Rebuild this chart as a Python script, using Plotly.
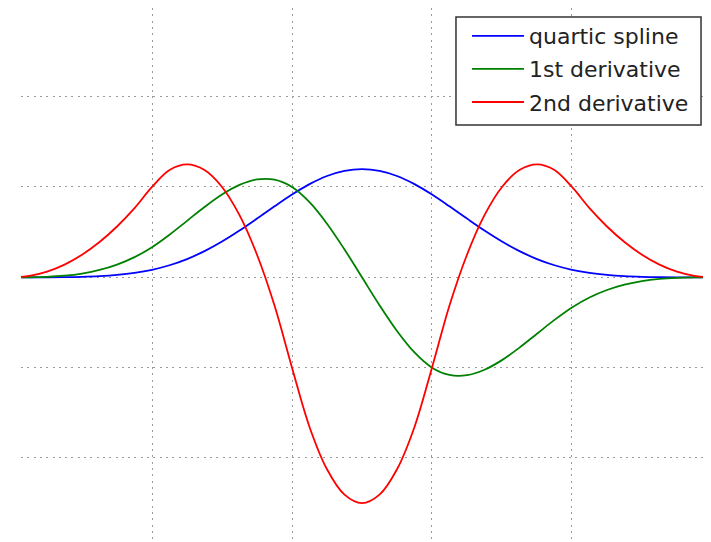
import plotly.graph_objects as go

# knot-parameter positions (x), step 1/8
x_vals = [i / 8 for i in range(41)]

quartic_spline = [0, 0.0000, 0.0002, 0.0008, 0.0026, 0.0064, 0.0132, 0.0244, 0.0417, 0.0667,
                  0.1009, 0.1448, 0.1979, 0.2587, 0.3249, 0.3929, 0.4583, 0.5160, 0.5609, 0.5892,
                  0.5990,
                  0.5892, 0.5609, 0.5160, 0.4583, 0.3929, 0.3249, 0.2587, 0.1979, 0.1448, 0.1009,
                  0.0667, 0.0417, 0.0244, 0.0132, 0.0064, 0.0026, 0.0008, 0.0002, 0.0000, 0]
first_derivative = [0, 0.0003, 0.0026, 0.0088, 0.0208, 0.0407, 0.0703, 0.1117, 0.1667, 0.2357,
                    0.3125, 0.3893, 0.4583, 0.5117, 0.5417, 0.5404, 0.5, 0.4160, 0.2969, 0.1543,
                    0,
                    -0.1543, -0.2969, -0.4160, -0.5, -0.5404, -0.5417, -0.5117, -0.4583, -0.3893,
                    -0.3125, -0.2357, -0.1667, -0.1117, -0.0703, -0.0407, -0.0208, -0.0088, -0.0026,
                    -0.0003, 0]
second_derivative = [0, 0.0078, 0.0313, 0.0703, 0.125, 0.1953, 0.2813, 0.3828, 0.5, 0.5938,
                     0.625, 0.5938, 0.5, 0.3438, 0.125, -0.1563, -0.5, -0.8281, -1.0625, -1.2031,
                     -1.25,
                     -1.2031, -1.0625, -0.8281, -0.5, -0.1563, 0.125, 0.3438, 0.5, 0.5938,
                     0.625, 0.5938, 0.5, 0.3828, 0.2813, 0.1953, 0.125, 0.0703, 0.0313, 0.0078, 0]

series_names = ["quartic spline", "1st derivative", "2nd derivative"]
series_colors = ["#0000ff", "#008000", "#ff0000"]

x_grid = [1, 2, 3, 4]
y_grid = [-1.0, -0.5, 0.0, 0.5, 1.0]

fig = go.Figure()
for i, (name, vals, col) in enumerate(zip(series_names,
                                         [quartic_spline, first_derivative, second_derivative],
                                         series_colors)):
    fig.add_trace(go.Scatter(
        x=x_vals, y=vals, mode="lines", name=name,
        line=dict(color=col, width=1.8, shape="spline", smoothing=1.0),
        legendgroup=f"g{i}",
    ))

grid_style = dict(showgrid=True, gridcolor="#9a9a9a", griddash="2px,4.3px", gridwidth=1,
                  zeroline=False, showticklabels=False, ticks="")

fig.update_layout(
    width=703, height=534,
    margin=dict(l=13, r=8, t=0, b=0, autoexpand=False),
    paper_bgcolor="white", plot_bgcolor="white",
    font=dict(family="DejaVu Sans", color="#222222"),
    showlegend=True,
    legend=dict(
        x=0.654, y=0.9869, xanchor="left", yanchor="top",
        bgcolor="rgba(0,0,0,0)", borderwidth=0,
        font=dict(size=22, family="DejaVu Sans", color="#222222"),
        traceorder="grouped", tracegroupgap=1.5, itemwidth=52,
    ),
    shapes=[dict(
        type="rect", xref="paper", yref="paper",
        x0=0.6378, x1=0.9971, y0=0.7809, y1=0.9831,
        line=dict(color="#333333", width=1.5), fillcolor="white", layer="above",
    )],
    xaxis=dict(range=[0.064, 4.936], tickvals=x_grid, side="top",
               showline=True, linecolor="#333333", linewidth=1, **grid_style),
    yaxis=dict(range=[-1.465, 1.4906], tickvals=y_grid, showline=False, **grid_style),
)

fig.write_html("out.html")
